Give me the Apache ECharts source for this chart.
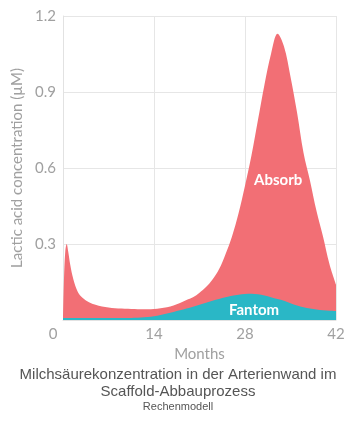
<!DOCTYPE html>
<html>
<head>
<meta charset="utf-8">
<script src="https://cdn.jsdelivr.net/npm/echarts@6/dist/echarts.min.js"></script>
<style>html,body{margin:0;padding:0;background:#fff}#c{width:356px;height:421px}</style>
</head>
<body>
<div id="c"></div>
<script>
const months = [0, 0.15, 0.35, 0.57, 0.8, 1.1, 1.6, 2.3, 3, 4, 5, 6, 7, 8, 9, 10, 11, 12, 13, 14, 15, 16, 17, 18, 19, 20, 21, 22, 23, 24, 25, 26, 27, 28, 29, 30, 31, 32, 33, 34, 35, 36, 37, 38, 39, 40, 41, 42];
const absorb = [0.0, 0.16, 0.27, 0.30, 0.27, 0.22, 0.16, 0.11, 0.088, 0.07, 0.06, 0.053, 0.049, 0.046, 0.045, 0.044, 0.043, 0.042, 0.042, 0.043, 0.046, 0.05, 0.057, 0.067, 0.079, 0.09, 0.108, 0.13, 0.16, 0.2, 0.26, 0.33, 0.42, 0.53, 0.65, 0.79, 0.93, 1.05, 1.13, 1.08, 0.96, 0.82, 0.66, 0.55, 0.43, 0.33, 0.22, 0.14];
const fantom = [0.008, 0.008, 0.008, 0.008, 0.008, 0.008, 0.008, 0.008, 0.008, 0.008, 0.008, 0.008, 0.008, 0.008, 0.008, 0.008, 0.009, 0.01, 0.012, 0.015, 0.02, 0.026, 0.032, 0.038, 0.045, 0.052, 0.06, 0.068, 0.076, 0.083, 0.09, 0.096, 0.1, 0.103, 0.104, 0.102, 0.097, 0.09, 0.083, 0.076, 0.066, 0.057, 0.05, 0.045, 0.041, 0.038, 0.037, 0.036];
const xTicks = [0, 14, 28, 42];
const yTicks = [0.3, 0.6, 0.9, 1.2];
const seriesNames = ['Absorb', 'Fantom'];
const labelPos = { Absorb: [33.1, 0.553], Fantom: [29.4, 0.04] };
const titleText = 'Milchsäurekonzentration in der Arterienwand im\nScaffold-Abbauprozess';
const subText = 'Rechenmodell';

const chart = echarts.init(document.getElementById('c'), null, { renderer: 'canvas' });
const font = 'Lato, "Open Sans", sans-serif';
const pairs = arr => months.map((m, i) => [m, arr[i]]);
const mp = (name) => ({
  symbol: 'circle', symbolSize: 0, silent: true,
  data: [{ coord: labelPos[name], value: name }],
  label: { show: true, position: 'inside', formatter: name, color: '#fff', fontWeight: 'bold', fontSize: 15, fontFamily: font }
});
chart.setOption({
  animation: false,
  title: {
    text: titleText, subtext: subText, left: 'center', top: 361, itemGap: 1,
    textStyle: { fontFamily: '"Liberation Sans", Arial, sans-serif', fontSize: 15, fontWeight: 'normal', color: '#555', lineHeight: 17 },
    subtextStyle: { fontFamily: '"Liberation Sans", Arial, sans-serif', fontSize: 11, color: '#555' }
  },
  grid: { left: 63, right: 20, top: 16, bottom: 101 },
  xAxis: {
    type: 'value', min: 0, max: 42, interval: 14,
    name: 'Months', nameLocation: 'middle', nameGap: 22,
    nameTextStyle: { color: '#A0A0A0', fontSize: 15, fontFamily: font },
    axisLine: { show: true, lineStyle: { color: '#E2E2E2' } },
    axisTick: { show: false },
    axisLabel: { color: '#A0A0A0', fontSize: 15, fontFamily: font, margin: 7,
      formatter: v => v === 0 ? '{z|0}' : (xTicks.includes(v) ? String(v) : ''),
      rich: { z: { color: '#A0A0A0', fontSize: 15, fontFamily: font, padding: [0, 20, 0, 0] } } },
    splitLine: { show: true, lineStyle: { color: '#E6E6E6' } }
  },
  yAxis: {
    type: 'value', min: 0, max: 1.2, interval: 0.3,
    name: 'Lactic acid concentration (µM)', nameLocation: 'middle', nameGap: 32,
    nameTextStyle: { color: '#A0A0A0', fontSize: 15, fontFamily: font },
    axisLine: { show: true, lineStyle: { color: '#E2E2E2' } },
    axisTick: { show: false },
    axisLabel: { color: '#A0A0A0', fontSize: 15, fontFamily: font, margin: 7,
      formatter: v => { const t = yTicks.find(y => Math.abs(y - v) < 1e-6); return t === undefined ? '' : t.toFixed(1); } },
    splitLine: { show: true, lineStyle: { color: '#E6E6E6' } }
  },
  series: [
    { name: seriesNames[0], type: 'line', data: pairs(absorb), smooth: 0.35, symbol: 'none',
      lineStyle: { width: 0 }, areaStyle: { color: '#F26F75', opacity: 1 }, z: 2, markPoint: mp('Absorb') },
    { name: seriesNames[1], type: 'line', data: pairs(fantom), smooth: 0.35, symbol: 'none',
      lineStyle: { width: 0 }, areaStyle: { color: '#2AB7C6', opacity: 1 }, z: 3, markPoint: mp('Fantom') }
  ]
});
</script>
</body>
</html>
